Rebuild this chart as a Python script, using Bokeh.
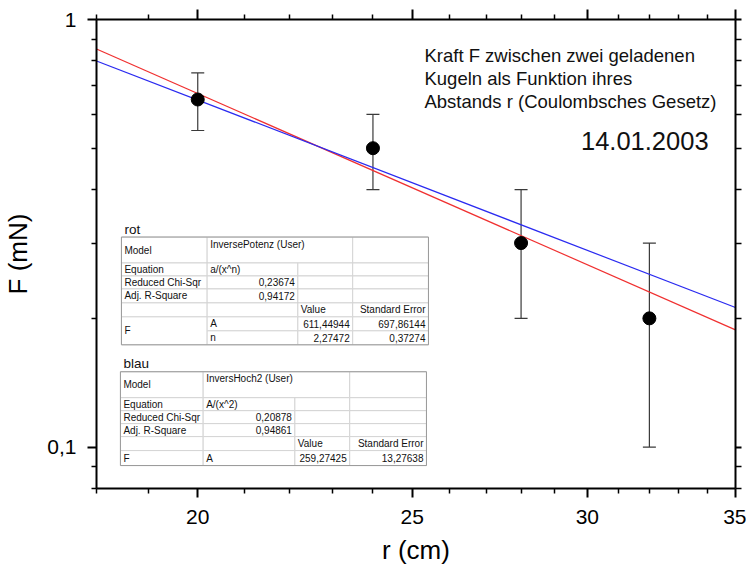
from bokeh.plotting import figure
from bokeh.models import (LogAxis, FixedTicker, CustomJSTickFormatter, Whisker, TeeHead,
                          ColumnDataSource, Range1d, LinearScale)
from bokeh.core.properties import value
from bokeh.embed import file_html
from bokeh.resources import INLINE

# ---------------- data ----------------
r_cm = [20, 24, 28, 32]
F_mN = [0.65, 0.50, 0.30, 0.20]
F_err = [0.10, 0.10, 0.10, 0.10]

fit_r = [18, 35]
fit_rot = [0.853, 0.188]
fit_blau = [0.800, 0.212]

x_major = [20, 25, 30, 35]
x_minor = [18, 19, 21, 22, 23, 24, 26, 27, 28, 29, 31, 32, 33, 34]
y_major = [0.1, 1]
y_minor = [0.08, 0.09, 0.2, 0.3, 0.4, 0.5, 0.6, 0.7, 0.8, 0.9]

note_lines = ["Kraft F zwischen zwei geladenen",
              "Kugeln als Funktion ihres",
              "Abstands r (Coulombsches Gesetz)"]
note_date = "14.01.2003"

rot_title = "rot"
rot_model = "InversePotenz (User)"
rot_equation = "a/(x^n)"
rot_chi = "0,23674"
rot_r2 = "0,94172"
rot_params = ["A", "n"]
rot_values = ["611,44944", "2,27472"]
rot_errors = ["697,86144", "0,37274"]

blau_title = "blau"
blau_model = "InversHoch2 (User)"
blau_equation = "A/(x^2)"
blau_chi = "0,20878"
blau_r2 = "0,94861"
blau_params = ["A"]
blau_values = ["259,27425"]
blau_errors = ["13,27638"]

FONT = value("Liberation Sans")

# ---------------- figure ----------------
W, H = 746, 567
ML, MR, MT, MB = 94, 11, 19, 78
FW, FH = W - ML - MR, H - MT - MB

p = figure(width=W, height=H, x_axis_type="log", y_axis_type="log",
           x_range=Range1d(18, 35), y_range=Range1d(0.08, 1),
           output_backend="svg", toolbar_location=None,
           min_border_left=ML, min_border_right=MR, min_border_top=MT, min_border_bottom=MB)
p.grid.visible = False
p.outline_line_color = None
p.background_fill_color = "white"

# pixel coordinate system inside the frame (origin at top-left) for annotations/tables
p.extra_x_ranges = {"px": Range1d(0, FW)}
p.extra_x_scales = {"px": LinearScale()}
p.extra_y_ranges = {"py": Range1d(FH, 0)}
p.extra_y_scales = {"py": LinearScale()}

xt = FixedTicker(ticks=x_major, minor_ticks=x_minor)
yt = FixedTicker(ticks=y_major, minor_ticks=y_minor)
xfmt = CustomJSTickFormatter(code="return tick.toFixed(0);")
yfmt = CustomJSTickFormatter(code="return tick.toString().replace('.', ',');")
nofmt = CustomJSTickFormatter(code="return '';")


def style_axis(ax, major_out, minor_out):
    ax.axis_line_width = 2
    ax.axis_line_color = "black"
    ax.major_tick_line_width = 2
    ax.minor_tick_line_width = 1.5
    ax.major_tick_line_color = "black"
    ax.minor_tick_line_color = "black"
    ax.major_tick_in = 0
    ax.minor_tick_in = 0
    ax.major_tick_out = major_out
    ax.minor_tick_out = minor_out


xa = p.xaxis[0]
xa.ticker = xt
xa.formatter = xfmt
style_axis(xa, 9, 5)
xa.major_label_text_font = "Liberation Sans"
xa.major_label_text_font_size = "21px"
xa.major_label_text_color = "black"
xa.major_label_standoff = 12
xa.axis_label = "r (cm)"
xa.axis_label_text_font = "Liberation Sans"
xa.axis_label_text_font_size = "26px"
xa.axis_label_text_font_style = "normal"
xa.axis_label_text_color = "black"
xa.axis_label_standoff = 8

ya = p.yaxis[0]
ya.ticker = yt
ya.formatter = yfmt
style_axis(ya, 9, 5)
ya.major_label_text_font = "Liberation Sans"
ya.major_label_text_font_size = "21px"
ya.major_label_text_color = "black"
ya.major_label_standoff = 11
ya.axis_label = "F (mN)"
ya.axis_label_text_font = "Liberation Sans"
ya.axis_label_text_font_size = "26px"
ya.axis_label_text_font_style = "normal"
ya.axis_label_text_color = "black"
ya.axis_label_standoff = 11

top_ax = LogAxis(ticker=xt, formatter=nofmt, major_label_text_font_size="2px",
                 major_label_standoff=0)
style_axis(top_ax, 10, 5)
p.add_layout(top_ax, "above")

right_ax = LogAxis(ticker=yt, formatter=nofmt, major_label_text_font_size="2px",
                   major_label_standoff=0)
style_axis(right_ax, 6, 6)
p.add_layout(right_ax, "right")

# ---------------- fit lines ----------------
p.line(fit_r, fit_rot, line_color="#f03030", line_width=1.2)
p.line(fit_r, fit_blau, line_color="#2a2af0", line_width=1.2)

# ---------------- data with error bars ----------------
src = ColumnDataSource(dict(
    x=r_cm, y=F_mN,
    upper=[f + e for f, e in zip(F_mN, F_err)],
    lower=[f - e for f, e in zip(F_mN, F_err)],
))
ebar_color = "#3a3a3a"
p.add_layout(Whisker(source=src, base="x", upper="upper", lower="lower",
                     line_color=ebar_color, line_width=1.2,
                     upper_head=TeeHead(size=13, line_color=ebar_color, line_width=1.2),
                     lower_head=TeeHead(size=13, line_color=ebar_color, line_width=1.2)))
p.scatter("x", "y", source=src, size=13, fill_color="black", line_color="black")

# ---------------- notes ----------------
TXT = dict(x_range_name="px", y_range_name="py", text_font=FONT, text_color="#111111")
p.text(x=[329, 329, 329], y=[36, 59, 82], text=note_lines, text_align="left",
       text_baseline="middle", text_font_size="18.5px", **TXT)
p.text(x=[614], y=[122], text=[note_date], text_align="right",
       text_baseline="middle", text_font_size="25.5px", **TXT)


# ---------------- fit tables ----------------
def draw_table(cols, rows, title, model, eq, chi, r2, params, vals, errs):
    c0, c1, c2, c3, c4 = cols
    L, R, T, B = [], [], [], []

    def cell(l, r, t, b):
        L.append(l); R.append(r); T.append(t); B.append(b)

    cell(c0, c1, rows[0], rows[1])
    cell(c1, c3, rows[0], rows[1])
    cell(c3, c4, rows[0], rows[1])
    for i in range(1, 5):
        for a, b in ((c0, c1), (c1, c2), (c2, c3), (c3, c4)):
            cell(a, b, rows[i], rows[i + 1])
    cell(c0, c1, rows[5], rows[-1])
    for k in range(len(params)):
        for a, b in ((c1, c2), (c2, c3), (c3, c4)):
            cell(a, b, rows[5 + k], rows[6 + k])
    p.quad(left=L, right=R, top=T, bottom=B, fill_color="white",
           line_color="#d4d4d4", line_width=1, x_range_name="px", y_range_name="py")
    p.quad(left=[c0], right=[c4], top=[rows[0]], bottom=[rows[-1]], fill_color=None,
           line_color="#9a9a9a", line_width=1, x_range_name="px", y_range_name="py")

    def mid(i, j=None):
        j = i + 1 if j is None else j
        return (rows[i] + rows[j]) / 2

    p.text(x=[c0 + 3], y=[rows[0] - 8], text=[title], text_align="left",
           text_baseline="middle", text_font_size="13.5px", **TXT)

    lx, ly, lt = [], [], []
    rx, ry, rt = [], [], []

    def left(x, y, t):
        lx.append(x); ly.append(y); lt.append(t)

    def right(x, y, t):
        rx.append(x); ry.append(y); rt.append(t)

    left(c0 + 3, mid(0), "Model")
    left(c1 + 3, rows[0] + 7, model)
    left(c0 + 3, mid(1), "Equation")
    left(c1 + 3, mid(1), eq)
    left(c0 + 3, mid(2), "Reduced Chi-Sqr")
    right(c2 - 3, mid(2), chi)
    left(c0 + 3, mid(3), "Adj. R-Square")
    right(c2 - 3, mid(3), r2)
    left(c2 + 3, mid(4), "Value")
    right(c4 - 3, mid(4), "Standard Error")
    left(c0 + 3, mid(5, len(rows) - 1), "F")
    for k, (pn, v, e) in enumerate(zip(params, vals, errs)):
        left(c1 + 3, mid(5 + k), pn)
        right(c3 - 3, mid(5 + k), v)
        right(c4 - 3, mid(5 + k), e)
    p.text(x=lx, y=ly, text=lt, text_align="left", text_baseline="middle",
           text_font_size="10px", **TXT)
    p.text(x=rx, y=ry, text=rt, text_align="right", text_baseline="middle",
           text_font_size="10px", **TXT)


draw_table([25, 111, 202, 257, 333], [218, 244, 257, 270, 284, 298, 312, 326],
           rot_title, rot_model, rot_equation, rot_chi, rot_r2,
           rot_params, rot_values, rot_errors)
draw_table([24, 107, 199, 254, 331], [353, 379, 392, 405, 418, 432, 447],
           blau_title, blau_model, blau_equation, blau_chi, blau_r2,
           blau_params, blau_values, blau_errors)

open("out.html", "w").write(file_html(p, INLINE))
